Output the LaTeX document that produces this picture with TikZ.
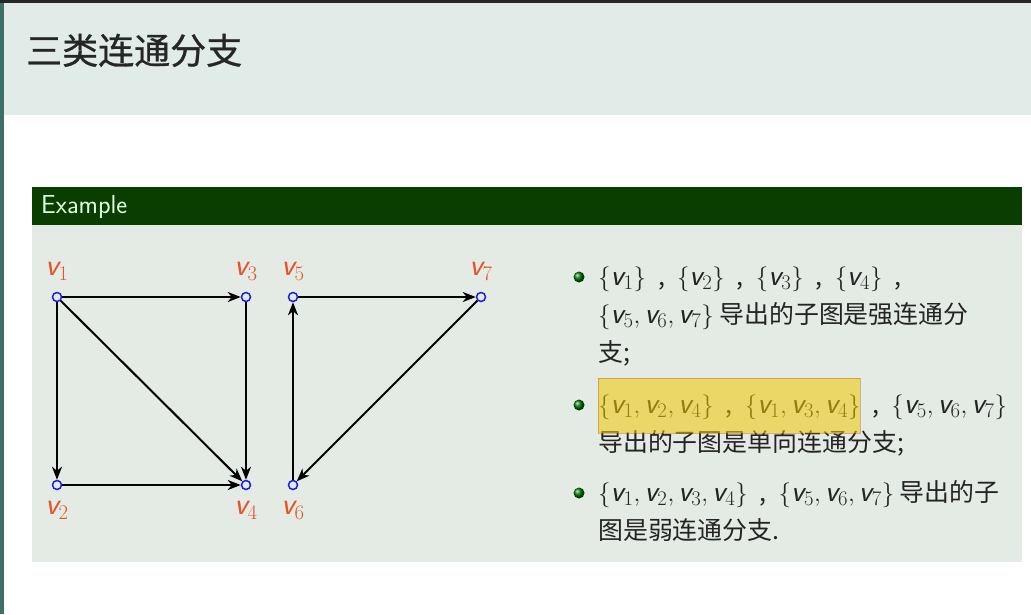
\documentclass[tikz,border=0pt]{standalone}
\usepackage{fontspec}
\newfontfamily\cjk[Scale=0.83]{Noto Sans CJK SC}
\newfontfamily\titlecjk[FakeBold=0.8]{Noto Sans CJK SC}
\usetikzlibrary{arrows.meta,positioning}
\definecolor{headbg}{RGB}{225,235,231}
\definecolor{sidestrip}{RGB}{62,112,102}
\definecolor{blockhead}{RGB}{10,62,0}
\definecolor{blockbody}{RGB}{228,235,229}
\definecolor{lblred}{RGB}{228,84,40}
\definecolor{vblue}{RGB}{30,30,220}
\definecolor{textgray}{RGB}{35,35,35}
\definecolor{hlyellow}{RGB}{240,200,0}
\newcommand{\vx}[1]{\mbox{\sffamily\itshape v}_{#1}}
\newcommand{\cm}{\makebox[31pt][c]{,}}

\begin{document}
\begin{tikzpicture}[x=1pt, y=-1pt,
    vert/.style={circle, draw=vblue, fill=blockbody, line width=1.5pt, inner sep=0pt, minimum size=9pt},
    lbl/.style={text=lblred, inner sep=0pt, font=\fontsize{31}{34}\selectfont},
    edge/.style={line width=2pt, -{Stealth[length=13pt, width=10pt, inset=4pt]}},
    itemline/.style={anchor=base west, inner sep=0pt, text=textgray, font=\fontsize{30}{36}\selectfont\cjk},
    bullet/.style={circle, inner sep=0pt, minimum size=11pt, shade, ball color=green!45!black}]
  \useasboundingbox (0,0) rectangle (1031,614);
  % slide background
  \fill[white] (0,0) rectangle (1031,614);
  \fill[headbg] (0,0) rectangle (1031,115);
  \fill[black!85] (0,0) rectangle (1031,3);
  \fill[sidestrip] (0,3) rectangle (4,614);
  \node[anchor=base west, inner sep=0pt, text=black!85, font=\fontsize{36}{40}\selectfont\titlecjk] (title) at (26,64) {三类连通分支};
  % block
  \fill[blockhead] (32,187) rectangle (1022,225);
  \fill[blockbody] (32,225) rectangle (1022,562);
  \node[anchor=base west, inner sep=0pt, text=white!88!green, font=\fontsize{26}{30}\selectfont\sffamily] (exhead) at (41,213) {Example};
  % graph
  \foreach \n/\x/\y in {1/57/297, 2/57/485, 3/246/297, 4/246/485, 5/293/297, 6/293/485, 7/481/297} {
    \node[vert] (v\n) at (\x,\y) {};
  }
  \foreach \n/\p in {1/above, 3/above, 5/above, 7/above, 2/below, 4/below, 6/below} {
    \node[lbl, \p=11pt of v\n] (l\n) {$\vx{\n}$};
  }
  \foreach \a/\b in {1/3, 1/2, 1/4, 3/4, 2/4, 6/5, 5/7, 7/6} {
    \draw[edge] (v\a) -- (v\b);
  }
  % items
  \foreach \k/\y in {1/277, 2/405, 3/493} {
    \node[bullet] (b\k) at (579,\y) {};
  }
  \node[itemline] (t1) at (598,285) {$\{\vx1\}$\cm$\{\vx2\}$\cm$\{\vx3\}$\cm$\{\vx4\}$\cm};
  \node[itemline] (t2) at (598,323) {$\{\vx5,\vx6,\vx7\}$ 导出的子图是强连通分};
  \node[itemline] (t3) at (598,361) {支;};
  \node[itemline] (t4) at (598,413) {$\{\vx1,\vx2,\vx4\}$\cm$\{\vx1,\vx3,\vx4\}$\cm$\{\vx5,\vx6,\vx7\}$};
  \node[itemline] (t5) at (598,451) {导出的子图是单向连通分支;};
  \node[itemline] (t6) at (598,501) {$\{\vx1,\vx2,\vx3,\vx4\}$\cm$\{\vx5,\vx6,\vx7\}$ 导出的子};
  \node[itemline] (t7) at (598,539) {图是弱连通分支.};
  \fill[hlyellow, fill opacity=0.55, draw=orange!70!black, draw opacity=0.4] (598,378) rectangle (860,433);
\end{tikzpicture}
\end{document}
